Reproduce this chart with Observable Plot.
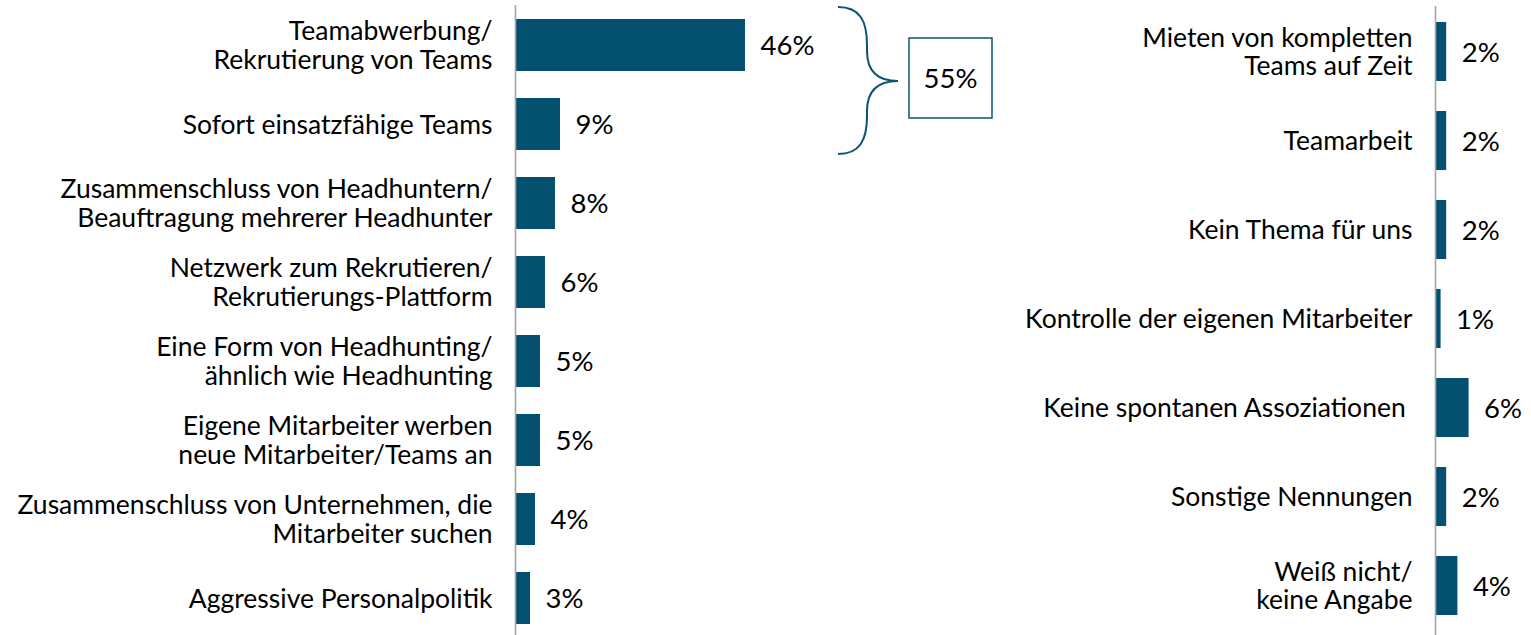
<!DOCTYPE html>
<html>
<head>
<meta charset="utf-8">
<script src="https://cdn.jsdelivr.net/npm/d3@7"></script>
<script src="https://cdn.jsdelivr.net/npm/@observablehq/plot@0.6"></script>
<style>
  html, body { margin: 0; padding: 0; background: #fff; }
  #chart { display: flex; width: 1531px; height: 635px; }
  #chart svg { display: block; overflow: visible; }
</style>
</head>
<body>
<div id="chart"></div>
<script>
// ---- data ----
const leftLabels = [
  "Teamabwerbung/\nRekrutierung von Teams",
  "Sofort einsatzfähige Teams",
  "Zusammenschluss von Headhuntern/\nBeauftragung mehrerer Headhunter",
  "Netzwerk zum Rekrutieren/\nRekrutierungs-Plattform",
  "Eine Form von Headhunting/\nähnlich wie Headhunting",
  "Eigene Mitarbeiter werben\nneue Mitarbeiter/Teams an",
  "Zusammenschluss von Unternehmen, die\nMitarbeiter suchen",
  "Aggressive Personalpolitik"
];
const leftValues = [46, 9, 8, 6, 5, 5, 4, 3];

const rightLabels = [
  "Mieten von kompletten\nTeams auf Zeit",
  "Teamarbeit",
  "Kein Thema für uns",
  "Kontrolle der eigenen Mitarbeiter",
  "Keine spontanen Assoziationen\u00a0",
  "Sonstige Nennungen",
  "Weiß nicht/\nkeine Angabe"
];
const rightValues = [2, 2, 2, 1, 6, 2, 4];

const braceGroup = [0, 1];   // indices of the bracketed categories
const braceTotal = "55%";

// ---- styles ----
const BAR = "#03516f";
const AXIS = "#a6a6a6";
const FONT = "Lato, 'Open Sans', sans-serif";
const FS = 26.5;   // category labels
const VS = 27.5;   // value labels

const leftData = leftLabels.map((label, i) => ({label, value: leftValues[i]}));
const rightData = rightLabels.map((label, i) => ({label, value: rightValues[i]}));

function panel(data, opts) {
  return Plot.plot({
    width: opts.width,
    height: 635,
    marginTop: opts.top,
    marginBottom: 0,
    marginLeft: 0,
    marginRight: 0,
    style: {fontFamily: FONT, fontSize: FS + "px", color: "#000", background: "#fff"},
    x: {domain: [0, 10], range: opts.xRange, axis: null},
    y: {domain: data.map(d => d.label), range: opts.yRange, paddingInner: 0.342, paddingOuter: 0.171, axis: null},
    marks: [
      Plot.barX(data, {x: "value", y: "label", fill: BAR}),
      Plot.ruleX([0], {stroke: AXIS, strokeWidth: 1.6}),
      Plot.text(data, {x: 0, y: "label", text: "label", textAnchor: "end", dx: -23, lineHeight: 1.06, fill: "#000", fontSize: FS}),
      Plot.text(data, {x: "value", y: "label", text: d => d.value + "%", textAnchor: "start", dx: 15, dy: 1, fill: "#000", fontSize: VS})
    ]
  });
}

const left = panel(leftData, {width: 1015, top: 5, xRange: [515, 565], yRange: [5.5, 637.5]});
const right = panel(rightData, {width: 516, top: 6, xRange: [420, 476], yRange: [5.8, 631.6]});

// brace + total box, positioned from the plot's own scales
{
  const xs = left.scale("x"), ys = left.scale("y");
  const bw = ys.bandwidth;
  const first = leftData[braceGroup[0]], last = leftData[braceGroup[braceGroup.length - 1]];
  const maxV = d3.max(braceGroup, i => leftData[i].value);
  const y0 = ys.apply(first.label) - 12;
  const y1 = ys.apply(last.label) + bw + 4;
  const ym = (y0 + y1) / 2 + 0.5;
  const x0 = xs.apply(maxV) + 93;
  const x1 = x0 + 29;
  const x2 = x0 + 60;
  const p = d3.path();
  p.moveTo(x0, y0);
  p.bezierCurveTo(x0 + 22, y0, x1, y0 + 14, x1, y0 + 38);
  p.lineTo(x1, ym - 30);
  p.bezierCurveTo(x1, ym - 8, x1 + 12, ym, x2, ym);
  p.bezierCurveTo(x1 + 12, ym, x1, ym + 8, x1, ym + 30);
  p.lineTo(x1, y1 - 38);
  p.bezierCurveTo(x1, y1 - 14, x0 + 22, y1, x0, y1);
  const svg = d3.select(left);
  svg.append("path").attr("d", p.toString()).attr("fill", "none").attr("stroke", "#0b5471").attr("stroke-width", 2);
  const bx = x2 + 11, bwid = 83, bh = 80;
  svg.append("rect").attr("x", bx).attr("y", ym - bh / 2 - 3).attr("width", bwid).attr("height", bh)
    .attr("fill", "none").attr("stroke", "#0b5471").attr("stroke-width", 1.5);
  svg.append("text").attr("x", bx + bwid / 2).attr("y", ym - 3).attr("dy", "0.35em")
    .attr("text-anchor", "middle").attr("font-family", FONT).attr("font-size", VS).attr("fill", "#000").text(braceTotal);
}

document.getElementById("chart").append(left, right);
</script>
</body>
</html>
